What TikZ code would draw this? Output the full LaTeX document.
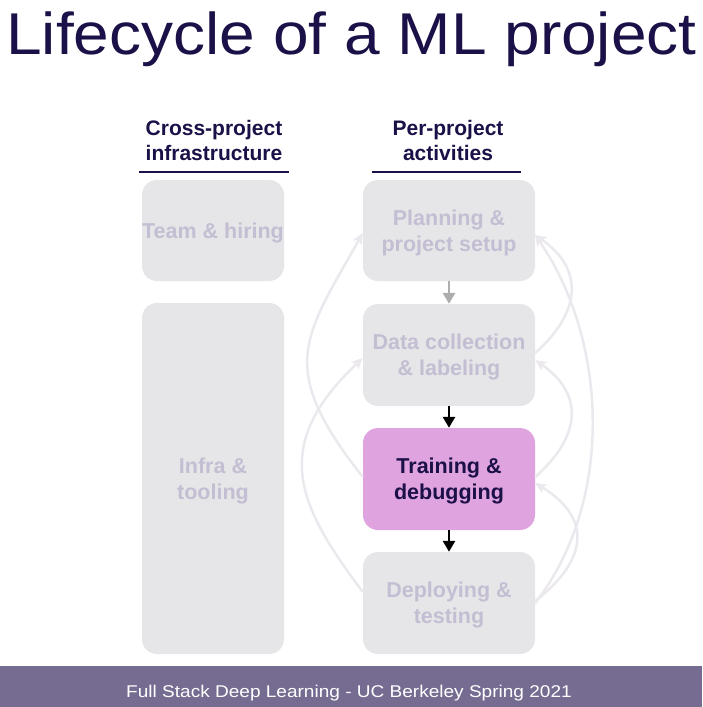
\documentclass[tikz,border=0pt]{standalone}
\usepackage{fontspec}
\setmainfont{Liberation Sans}
\newfontfamily\titlefont{Liberation Sans}[FakeStretch=1.085]
\newfontfamily\footfont{Liberation Sans}[FakeStretch=1.12]
\usetikzlibrary{arrows.meta,calc}
\definecolor{navy}{HTML}{1B1047}
\definecolor{boxgray}{HTML}{E6E6E9}
\definecolor{boxtext}{HTML}{C4BED3}
\definecolor{trainfill}{HTML}{DFA3E0}
\definecolor{footbg}{HTML}{766C91}
\definecolor{curvecol}{HTML}{ECE9EE}
\definecolor{arrowgray}{HTML}{ADADAD}
\tikzset{
  graybox/.style={draw=none, fill=boxgray, rounded corners=15pt, text=boxtext,
    font=\bfseries\fontsize{21.5}{26}\selectfont, align=center,
    text height=41.4pt, text depth=0pt, inner sep=0pt},
  oneline/.style={text height=15.4pt},
  actbox/.style={graybox, minimum width=172pt, minimum height=102pt},
  hotbox/.style={actbox, fill=trainfill, text=navy},
  header/.style={text=navy, font=\bfseries\fontsize{21}{25}\selectfont, align=center,
    text height=40pt, text depth=0pt, inner sep=0pt},
  hline/.style={draw=navy, line width=2pt},
  flowarrow/.style={line width=2.7pt, -{Triangle[length=11pt,width=12pt]}},
  loop/.style={draw=curvecol, line width=2.5pt, -{Stealth[length=11pt,width=10pt,inset=2.5pt]}},
}
\begin{document}
\begin{tikzpicture}[x=1pt,y=-1pt]
\useasboundingbox (0,0) rectangle (702,707);
\fill[white] (0,0) rectangle (702,707);
\fill[footbg] (0,666) rectangle (702,707);

\node[anchor=base, inner sep=0pt, text=navy, font=\titlefont\fontsize{59}{70}\selectfont] (title) at (351.5,54.5) {Lifecycle of a ML project};
\node[anchor=base, inner sep=0pt, text=white, font=\footfont\fontsize{17}{20}\selectfont] (foot) at (349,697.3) {Full Stack Deep Learning - UC Berkeley Spring 2021};

\node[header] (hcross) at (214,140.5) {Cross-project\\infrastructure};
\node[header] (hper) at (448,140.5) {Per-project\\activities};
\coordinate (ul1) at (139,172.3); \coordinate (ur1) at (289,172.3);
\coordinate (ul2) at (372,172.3); \coordinate (ur2) at (521,172.3);
\draw[hline] (ul1) -- (ur1);
\draw[hline] (ul2) -- (ur2);

\node[graybox, oneline, minimum width=142pt, minimum height=101pt] (team) at (213,230.5) {Team \& hiring};
\node[graybox, minimum width=142pt, minimum height=351pt] (infra) at (213,478.5) {Infra \&\\tooling};

\node[actbox, minimum height=101pt] (plan) at (449,230.5) {Planning \&\\project setup};
\node[actbox] (data) at (449,355) {Data collection\\\& labeling};
\node[hotbox] (train) at (449,479) {Training \&\\debugging};
\node[actbox] (deploy) at (449,603) {Deploying \&\\testing};

\draw[flowarrow, draw=arrowgray] (plan.south) -- (data.north);
\draw[flowarrow, draw=black] (data.south) -- (train.north);
\draw[flowarrow, draw=black] (train.south) -- (deploy.north);

% left loops
\draw[loop] ($(train.west)+(0,-2)$) .. controls +(-87,-110) and +(-59,105) .. ($(plan.west)+(0,2.5)$);
\draw[loop] ($(deploy.west)+(0,-11)$) .. controls +(-66,-88) and +(-93,88) .. ($(data.west)+(0,3)$);
% right loops
\draw[loop] ($(data.east)+(0,-2)$) .. controls +(45,-40) and +(50,35) .. ($(plan.east)+(0,4.5)$);
\draw[loop] (deploy.east) .. controls +(80,-103) and +(72,105) .. ($(plan.east)+(0,4.5)$);
\draw[loop] ($(train.east)+(0,-2)$) .. controls +(45,-40) and +(50,35) .. ($(data.east)+(0,5)$);
\draw[loop] ($(deploy.east)+(0,-2)$) .. controls +(53,-41) and +(57,35) .. ($(train.east)+(0,4)$);
\end{tikzpicture}
\end{document}
